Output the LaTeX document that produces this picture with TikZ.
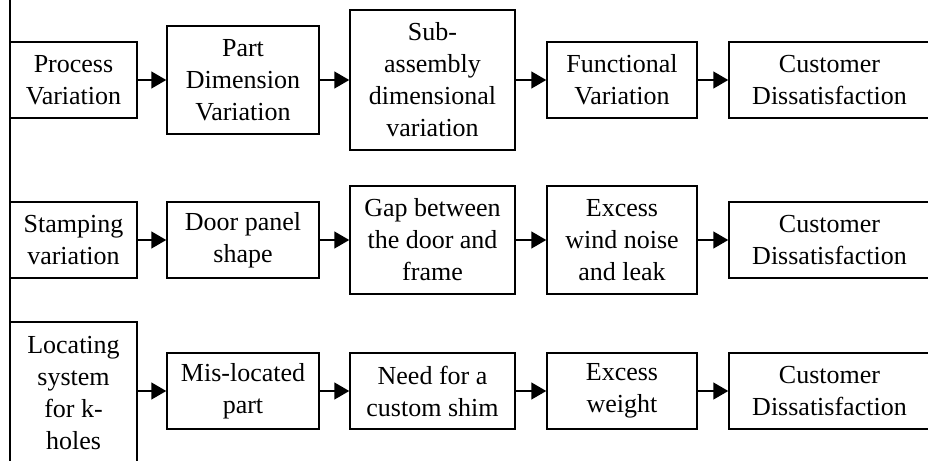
\documentclass[tikz,border=0pt]{standalone}
\usepackage{fontspec}
\setmainfont{Liberation Serif}
\usetikzlibrary{arrows.meta}
\begin{document}
\begin{tikzpicture}[x=1pt,y=-1pt,
  box/.style={draw, line width=1.5pt, rectangle, inner sep=0pt, align=center,
    font=\fontsize{26}{32}\selectfont},
  conn/.style={line width=1.5pt, -{Triangle[length=15pt,width=17pt]}}]
\useasboundingbox (0,0) rectangle (928,460);
\clip (0,0) rectangle (928,460);
\fill[white] (0,0) rectangle (928,460);
% spine
\coordinate (top) at (10,-5);
\coordinate (bot) at (10,470);
\draw[line width=1.5pt] (top) -- (bot);
% row 1
\node[box, minimum width=127pt, minimum height=76pt] (a1) at (73.5,80) {Process\\Variation};
\node[box, minimum width=152pt, minimum height=108pt] (a2) at (243,80) {Part\\Dimension\\Variation};
\node[box, minimum width=165pt, minimum height=140pt] (a3) at (432.5,80) {Sub-\\assembly\\dimensional\\variation};
\node[box, minimum width=150pt, minimum height=76pt] (a4) at (622,80) {Functional\\Variation};
\node[box, minimum width=201pt, minimum height=76pt] (a5) at (829.5,80) {Customer\\Dissatisfaction};
\draw[conn] (a1) -- (a2);
\draw[conn] (a2) -- (a3);
\draw[conn] (a3) -- (a4);
\draw[conn] (a4) -- (a5);
% row 2
\node[box, minimum width=127pt, minimum height=76pt] (b1) at (73.5,240) {Stamping\\variation};
\node[box, minimum width=152pt, minimum height=76pt] (b2) at (243,240) {Door panel\\shape};
\node[box, minimum width=165pt, minimum height=108pt] (b3) at (432.5,240) {Gap between\\the door and\\frame};
\node[box, minimum width=150pt, minimum height=108pt] (b4) at (622,240) {Excess\\wind noise\\and leak};
\node[box, minimum width=201pt, minimum height=76pt] (b5) at (829.5,240) {Customer\\Dissatisfaction};
\draw[conn] (b1) -- (b2);
\draw[conn] (b2) -- (b3);
\draw[conn] (b3) -- (b4);
\draw[conn] (b4) -- (b5);
% row 3
\node[box, minimum width=127pt, minimum height=143pt] (c1) at (73.5,393.5) {Locating\\system\\for k-\\holes};
\node[box, minimum width=152pt, minimum height=76pt] (c2) at (243,391) {Mis-located\\part};
\node[box, minimum width=165pt, minimum height=76pt] (c3) at (432.5,391) {Need for a\\custom shim};
\node[box, minimum width=150pt, minimum height=76pt] (c4) at (622,391) {Excess\\weight};
\node[box, minimum width=201pt, minimum height=76pt] (c5) at (829.5,391) {Customer\\Dissatisfaction};
\draw[conn] (c2.west -| c1.east) -- (c2.west);
\draw[conn] (c2) -- (c3);
\draw[conn] (c3) -- (c4);
\draw[conn] (c4) -- (c5);
\end{tikzpicture}
\end{document}
